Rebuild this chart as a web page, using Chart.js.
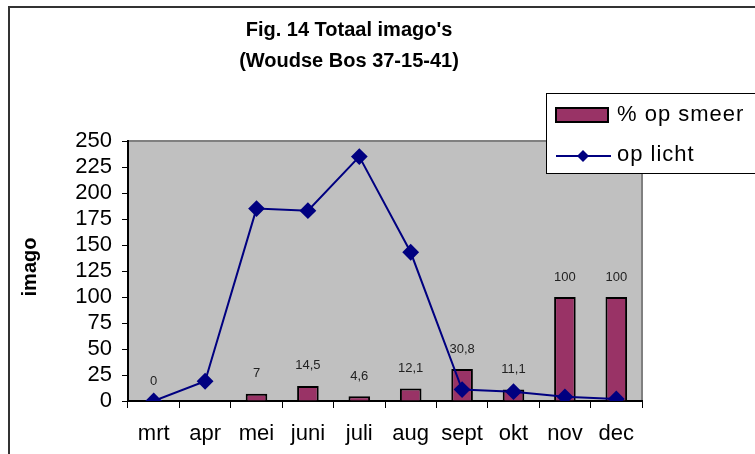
<!DOCTYPE html>
<html>
<head>
<meta charset="utf-8">
<script src="https://cdn.jsdelivr.net/npm/chart.js@4/dist/chart.umd.min.js"></script>
<style>
html,body{margin:0;padding:0;background:#fff;}
#wrap{width:755px;height:454px;position:relative;}
</style>
</head>
<body>
<div id="wrap"><canvas id="c" width="755" height="454"></canvas></div>
<script>
const titleLines = ["Fig. 14 Totaal imago's", "(Woudse Bos 37-15-41)"];
const yAxisTitle = "imago";
const categories = ["mrt","apr","mei","juni","juli","aug","sept","okt","nov","dec"];
const smeerLabel = "% op smeer";
const smeerValues = [0, 0, 7, 14.5, 4.6, 12.1, 30.8, 11.1, 100, 100];
const lichtLabel = "op licht";
const lichtValues = [0, 19, 185, 183, 235, 143, 11, 9, 4, 2];
const yTicks = [0,25,50,75,100,125,150,175,200,225,250];

const FONT = "'Liberation Sans', Arial, sans-serif";
const BAR_COLOR = "#993366";
const LINE_COLOR = "#000080";

const decorPlugin = {
  id: 'decor',
  beforeDraw(chart) {
    const ctx = chart.ctx;
    const a = chart.chartArea;
    ctx.save();
    ctx.fillStyle = '#fff';
    ctx.fillRect(0,0,chart.width,chart.height);
    // outer chart border
    ctx.strokeStyle = '#333';
    ctx.lineWidth = 2;
    ctx.strokeRect(9, 7, 900, 600);
    // plot area
    ctx.fillStyle = '#C0C0C0';
    ctx.fillRect(a.left, a.top, a.right - a.left, a.bottom - a.top);
    ctx.strokeStyle = '#808080';
    ctx.lineWidth = 2;
    ctx.beginPath();
    ctx.moveTo(a.left, a.top);
    ctx.lineTo(a.right, a.top);
    ctx.lineTo(a.right, a.bottom);
    ctx.stroke();
    // title
    ctx.fillStyle = '#000';
    ctx.font = "bold 20px " + FONT;
    ctx.textAlign = 'center';
    ctx.textBaseline = 'middle';
    ctx.fillText(titleLines[0], 349, 30);
    ctx.fillText(titleLines[1], 349, 61);
    // y axis title
    ctx.save();
    ctx.translate(30, 267);
    ctx.rotate(-Math.PI/2);
    ctx.font = "bold 20px " + FONT;
    ctx.fillText(yAxisTitle, 0, 0);
    ctx.restore();
    ctx.restore();
  },
  afterDatasetDraw(chart, args) {
    if (args.index !== 0) return;
    const ctx = chart.ctx;
    const meta = chart.getDatasetMeta(0);
    ctx.save();
    ctx.fillStyle = '#222';
    ctx.font = "13px " + FONT;
    ctx.textAlign = 'center';
    ctx.textBaseline = 'middle';
    meta.data.forEach((el, i) => {
      const v = smeerValues[i];
      const txt = String(v).replace('.', ',');
      ctx.fillText(txt, el.x, el.y - 20);
    });
    ctx.restore();
  },
  afterDraw(chart) {
    const ctx = chart.ctx;
    ctx.save();
    // legend box
    ctx.fillStyle = '#fff';
    ctx.fillRect(546, 93, 300, 80);
    ctx.strokeStyle = '#000';
    ctx.lineWidth = 1;
    ctx.strokeRect(546.5, 93.5, 300, 80);
    // bar swatch
    ctx.fillStyle = BAR_COLOR;
    ctx.fillRect(556, 108, 52, 14);
    ctx.lineWidth = 2;
    ctx.strokeRect(556, 108, 52, 14);
    // line swatch
    ctx.strokeStyle = LINE_COLOR;
    ctx.lineWidth = 2;
    ctx.beginPath();
    ctx.moveTo(556, 156);
    ctx.lineTo(611, 156);
    ctx.stroke();
    ctx.fillStyle = LINE_COLOR;
    ctx.beginPath();
    ctx.moveTo(583, 150); ctx.lineTo(589, 156); ctx.lineTo(583, 162); ctx.lineTo(577, 156);
    ctx.closePath();
    ctx.fill();
    ctx.fillStyle = '#000';
    ctx.font = "22px " + FONT;
    try { ctx.letterSpacing = '1px'; } catch (e) {}
    ctx.textAlign = 'left';
    ctx.textBaseline = 'middle';
    ctx.fillText(chart.data.datasets[0].label, 617, 115);
    ctx.fillText(chart.data.datasets[1].label, 617, 155);
    ctx.restore();
  }
};

new Chart(document.getElementById('c'), {
  type: 'bar',
  data: {
    labels: categories,
    datasets: [
      {
        type: 'bar',
        label: smeerLabel,
        data: smeerValues,
        backgroundColor: BAR_COLOR,
        borderColor: '#000',
        borderWidth: 2,
        borderSkipped: 'bottom',
        categoryPercentage: 1,
        barPercentage: 0.42,
        order: 2
      },
      {
        type: 'line',
        label: lichtLabel,
        data: lichtValues,
        borderColor: LINE_COLOR,
        backgroundColor: LINE_COLOR,
        borderWidth: 2,
        pointStyle: 'rectRot',
        pointRadius: 7,
        pointBackgroundColor: LINE_COLOR,
        pointBorderColor: LINE_COLOR,
        tension: 0,
        order: 1
      }
    ]
  },
  options: {
    responsive: false,
    animation: false,
    devicePixelRatio: 1,
    layout: { padding: { left: 68, top: 141, right: 113, bottom: 0 } },
    plugins: {
      legend: { display: false },
      title: { display: false },
      tooltip: { enabled: false }
    },
    scales: {
      x: {
        offset: true,
        afterFit(s) { s.height = 53; },
        grid: { offset: true, drawOnChartArea: false, drawTicks: true, tickLength: 7, color: '#000', lineWidth: 1 },
        border: { display: true, color: '#000', width: 2 },
        ticks: { color: '#000', font: { family: FONT, size: 22 }, padding: 13, maxRotation: 0, autoSkip: false }
      },
      y: {
        min: 0, max: 250,
        afterFit(s) { s.width = 60; },
        afterBuildTicks(s) { s.ticks = yTicks.map(v => ({ value: v })); },
        grid: { drawOnChartArea: false, drawTicks: true, tickLength: 6, color: '#000', lineWidth: 1 },
        border: { display: true, color: '#000', width: 2 },
        ticks: { color: '#000', font: { family: FONT, size: 22 }, padding: 10, autoSkip: false, stepSize: 25 }
      }
    }
  },
  plugins: [decorPlugin]
});
</script>
</body>
</html>
